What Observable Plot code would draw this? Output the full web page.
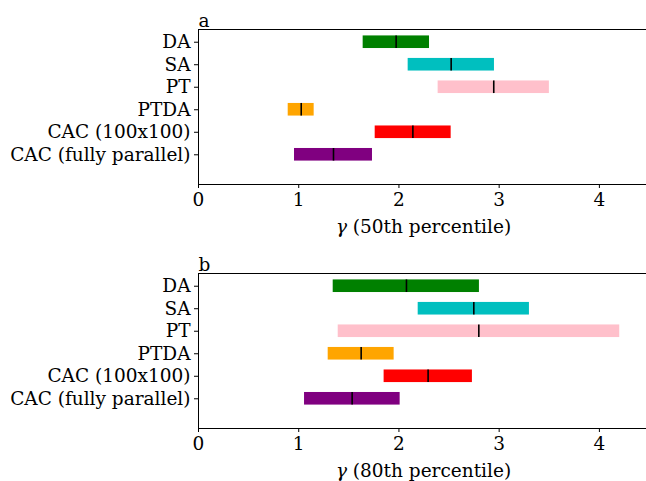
<!DOCTYPE html>
<html>
<head>
<meta charset="utf-8">
<script src="https://cdn.jsdelivr.net/npm/d3@7"></script>
<script src="https://cdn.jsdelivr.net/npm/@observablehq/plot@0.6"></script>
<style>
  html, body { margin: 0; padding: 0; background: #fff; overflow: hidden; width: 646px; height: 481px; }
  #chart { width: 646px; overflow: hidden; }
  #chart svg { display: block; max-width: none !important; }
</style>
</head>
<body>
<div id="chart"></div>
<script>
const methods = ["DA", "SA", "PT", "PTDA", "CAC (100x100)", "CAC (fully parallel)"];
const colors = ["#008000", "#00bfbf", "#ffc0cb", "#ffa500", "#ff0000", "#800080"];
const lo50  = [1.643, 2.092, 2.391, 0.895, 1.763, 0.958];
const med50 = [1.972, 2.521, 2.946, 1.025, 2.139, 1.347];
const hi50  = [2.305, 2.953, 3.501, 1.154, 2.521, 1.736];
const lo80  = [1.344, 2.192, 1.394, 1.294, 1.852, 1.058];
const med80 = [2.075, 2.747, 2.797, 1.623, 2.291, 1.533];
const hi80  = [2.803, 3.302, 4.203, 1.952, 2.733, 2.012];
const xTicks = [0, 1, 2, 3, 4];
const panels = [
  {title: "a", label: "γ (50th percentile)", lo: lo50, med: med50, hi: hi50},
  {title: "b", label: "γ (80th percentile)", lo: lo80, med: med80, hi: hi80}
];

const n = methods.length;
const posOf = i => n - 1 - i;
const half = 0.28;
const font = "DejaVu Serif";

function panel(p, opts) {
  const data = methods.map((m, i) => ({
    name: m, pos: posOf(i), lo: p.lo[i], med: p.med[i], hi: p.hi[i], color: colors[i]
  }));
  const chart = Plot.plot({
    width: 652,
    height: opts.height,
    marginLeft: 198,
    marginRight: 4,
    marginTop: opts.top,
    marginBottom: opts.bottom,
    style: {fontFamily: font, fontSize: "18.5px", color: "#000", background: "#fff", maxWidth: "none"},
    x: {domain: [0, 4.49]},
    y: {domain: [-1.32, n - 1 + 0.565]},
    color: {type: "identity"},
    marks: [
      Plot.rect(data, {x1: "lo", x2: "hi", y1: d => d.pos - half, y2: d => d.pos + half, fill: "color"}),
      Plot.ruleX(data, {x: "med", y1: d => d.pos - half, y2: d => d.pos + half, stroke: "#000", strokeWidth: 1.6}),
      Plot.axisX({ticks: xTicks, tickFormat: d => String(d), tickSize: 4, tickPadding: 4, label: null, fontSize: 18.5}),
      Plot.axisY({ticks: data.map(d => d.pos), tickFormat: v => methods[n - 1 - v], tickSize: 4, tickPadding: 4, label: null, fontSize: 18.5}),
      Plot.frame({stroke: "#000", strokeWidth: 1}),
      Plot.text([p.title], {frameAnchor: "top-left", textAnchor: "start", lineAnchor: "bottom", dy: -3, fontSize: 18.5}),
      Plot.text([p.label], {frameAnchor: "bottom", lineAnchor: "middle", dy: 43, fontSize: 18.5})
    ]
  });
  chart.querySelectorAll("text").forEach(t => {
    if (t.textContent.startsWith("γ")) {
      const rest = t.textContent.slice(1);
      t.textContent = "";
      const g = document.createElementNS("http://www.w3.org/2000/svg", "tspan");
      g.setAttribute("font-style", "italic");
      g.textContent = "γ";
      const r = document.createElementNS("http://www.w3.org/2000/svg", "tspan");
      r.textContent = rest;
      t.appendChild(g);
      t.appendChild(r);
    }
  });
  return chart;
}

const root = document.getElementById("chart");
root.appendChild(panel(panels[0], {height: 243, top: 29, bottom: 59}));
root.appendChild(panel(panels[1], {height: 238, top: 30, bottom: 53}));
</script>
</body>
</html>
